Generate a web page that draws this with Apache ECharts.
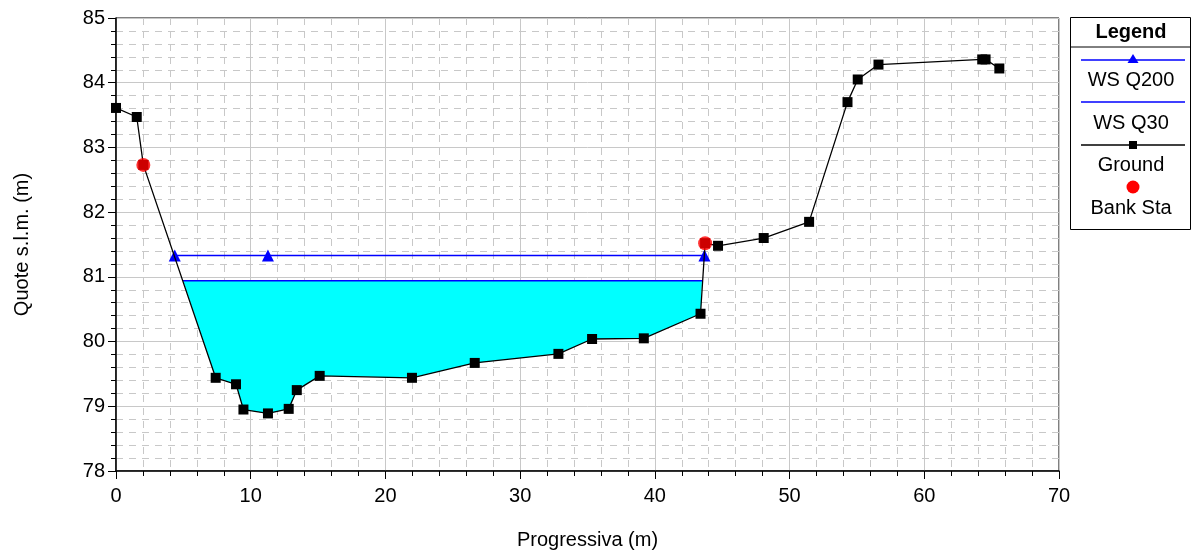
<!DOCTYPE html>
<html>
<head>
<meta charset="utf-8">
<script src="https://cdn.jsdelivr.net/npm/echarts@6/dist/echarts.min.js"></script>
<style>
  html, body { margin: 0; padding: 0; background: #fff; }
  #chart { width: 1197px; height: 555px; }
</style>
</head>
<body>
<div id="chart"></div>
<script>
// Cross-section: ground profile (station, elevation)
const station = [0, 1.54, 2.03, 7.40, 8.91, 9.46, 11.28, 12.82, 13.42, 15.12, 21.97, 26.63, 32.84, 35.34, 39.18, 43.39, 43.73, 44.69, 48.08, 51.45, 54.30, 55.06, 56.60, 64.30, 64.55, 65.57];
const elevation = [83.61, 83.47, 82.73, 79.44, 79.34, 78.95, 78.89, 78.96, 79.25, 79.47, 79.44, 79.67, 79.81, 80.04, 80.05, 80.43, 81.52, 81.48, 81.60, 81.85, 83.70, 84.05, 84.28, 84.36, 84.36, 84.22];

// Bank stations (left, right)
const bankStations = [[2.03, 82.73], [43.73, 81.52]];

// Water surfaces
const wsQ200 = [[4.36, 81.33], [11.28, 81.33], [43.68, 81.33]];
const wsQ30 = [[4.97, 80.94], [43.50, 80.94]];

// Axis ticks
const xTicks = [0, 70, 10];
const yTicks = [78, 85, 1];

const FONT = 'Liberation Sans, Arial, sans-serif';

const ground = station.map((s, i) => [s, elevation[i]]);

// Wetted polygon for WS Q30: waterline ends + ground points between them
const wsLeft = wsQ30[0], wsRight = wsQ30[wsQ30.length - 1];
const waterPolygon = [wsLeft]
  .concat(ground.filter(p => p[0] > wsLeft[0] && p[0] < wsRight[0]))
  .concat([wsRight]);

const chart = echarts.init(document.getElementById('chart'), null, { renderer: 'canvas' });

const gridLine = '#c8c8c8';

const option = {
  animation: false,
  backgroundColor: '#fff',
  grid: { left: 116, right: 138, top: 18, bottom: 84, show: true, borderColor: '#000', borderWidth: 1, backgroundColor: 'transparent' },
  xAxis: {
    type: 'value', min: xTicks[0], max: xTicks[1], interval: xTicks[2],
    name: 'Progressiva (m)', nameLocation: 'middle', nameGap: 59,
    nameTextStyle: { fontFamily: FONT, fontSize: 20, color: '#000' },
    axisLine: { show: true, onZero: false, lineStyle: { color: '#000', width: 1.5 } },
    axisTick: { show: true, inside: false, length: 8, lineStyle: { color: '#000' } },
    minorTick: { show: true, splitNumber: 5, length: 5, lineStyle: { color: '#000' } },
    axisLabel: { fontFamily: FONT, fontSize: 20, color: '#000', margin: 15 },
    splitLine: { show: true, lineStyle: { color: gridLine, width: 1 } },
    minorSplitLine: { show: true, lineStyle: { color: gridLine, width: 1, type: [7, 6] } }
  },
  yAxis: {
    type: 'value', min: yTicks[0], max: yTicks[1], interval: yTicks[2],
    name: 'Quote s.l.m. (m)', nameLocation: 'middle', nameGap: 84,
    nameTextStyle: { fontFamily: FONT, fontSize: 20, color: '#000' },
    axisLine: { show: true, onZero: false, lineStyle: { color: '#000', width: 1.5 } },
    axisTick: { show: true, inside: false, length: 8, lineStyle: { color: '#000' } },
    minorTick: { show: true, splitNumber: 5, length: 5, lineStyle: { color: '#000' } },
    axisLabel: { fontFamily: FONT, fontSize: 20, color: '#000', margin: 11 },
    splitLine: { show: true, lineStyle: { color: gridLine, width: 1 } },
    minorSplitLine: { show: true, lineStyle: { color: gridLine, width: 1, type: [7, 6] } }
  },
  series: [
    {
      name: 'Water',
      type: 'custom',
      z: 1,
      silent: true,
      data: [0],
      renderItem: function (params, api) {
        const pts = waterPolygon.map(p => api.coord(p));
        return {
          type: 'polygon',
          shape: { points: pts },
          style: { fill: '#00ffff', stroke: null }
        };
      }
    },
    {
      name: 'WS Q30',
      type: 'line',
      z: 3,
      data: wsQ30,
      symbol: 'none',
      lineStyle: { color: '#0000ff', width: 1.5 }
    },
    {
      name: 'WS Q200',
      type: 'line',
      z: 3,
      data: wsQ200,
      symbol: 'triangle',
      symbolSize: 12,
      itemStyle: { color: '#0000ff' },
      lineStyle: { color: '#0000ff', width: 1.5 }
    },
    {
      name: 'Ground',
      type: 'line',
      z: 4,
      data: ground,
      symbol: 'rect',
      symbolSize: 10,
      itemStyle: { color: '#000' },
      lineStyle: { color: '#000', width: 1.3 }
    },
    {
      name: 'Bank Sta',
      type: 'scatter',
      z: 5,
      data: bankStations,
      symbol: 'circle',
      symbolSize: 14,
      itemStyle: { color: '#ff0000' }
    }
  ],
  graphic: [
    { type: 'rect', shape: { x: 1070.5, y: 17.5, width: 120, height: 212 }, style: { fill: '#fff', stroke: '#000', lineWidth: 1 } },
    { type: 'line', shape: { x1: 1070.5, y1: 47, x2: 1190.5, y2: 47 }, style: { stroke: '#000', lineWidth: 1 } },
    { type: 'text', x: 1131, y: 32, style: { text: 'Legend', font: 'bold 20px ' + FONT, fill: '#000', align: 'center', verticalAlign: 'middle' } },
    // WS Q200
    { type: 'line', shape: { x1: 1081, y1: 60, x2: 1185, y2: 60 }, style: { stroke: '#0000ff', lineWidth: 1.5 } },
    { type: 'polygon', shape: { points: [[1133, 54], [1138.5, 63], [1127.5, 63]] }, style: { fill: '#0000ff' } },
    { type: 'text', x: 1131, y: 80, style: { text: 'WS Q200', font: '20px ' + FONT, fill: '#000', align: 'center', verticalAlign: 'middle' } },
    // WS Q30
    { type: 'line', shape: { x1: 1081, y1: 102, x2: 1185, y2: 102 }, style: { stroke: '#0000ff', lineWidth: 1.5 } },
    { type: 'text', x: 1131, y: 123, style: { text: 'WS Q30', font: '20px ' + FONT, fill: '#000', align: 'center', verticalAlign: 'middle' } },
    // Ground
    { type: 'line', shape: { x1: 1081, y1: 145, x2: 1185, y2: 145 }, style: { stroke: '#000', lineWidth: 1.3 } },
    { type: 'rect', shape: { x: 1129, y: 141, width: 8, height: 8 }, style: { fill: '#000' } },
    { type: 'text', x: 1131, y: 165, style: { text: 'Ground', font: '20px ' + FONT, fill: '#000', align: 'center', verticalAlign: 'middle' } },
    // Bank Sta
    { type: 'circle', shape: { cx: 1133, cy: 187, r: 6.5 }, style: { fill: '#ff0000' } },
    { type: 'text', x: 1131, y: 208, style: { text: 'Bank Sta', font: '20px ' + FONT, fill: '#000', align: 'center', verticalAlign: 'middle' } }
  ]
};

chart.setOption(option);
</script>
</body>
</html>
